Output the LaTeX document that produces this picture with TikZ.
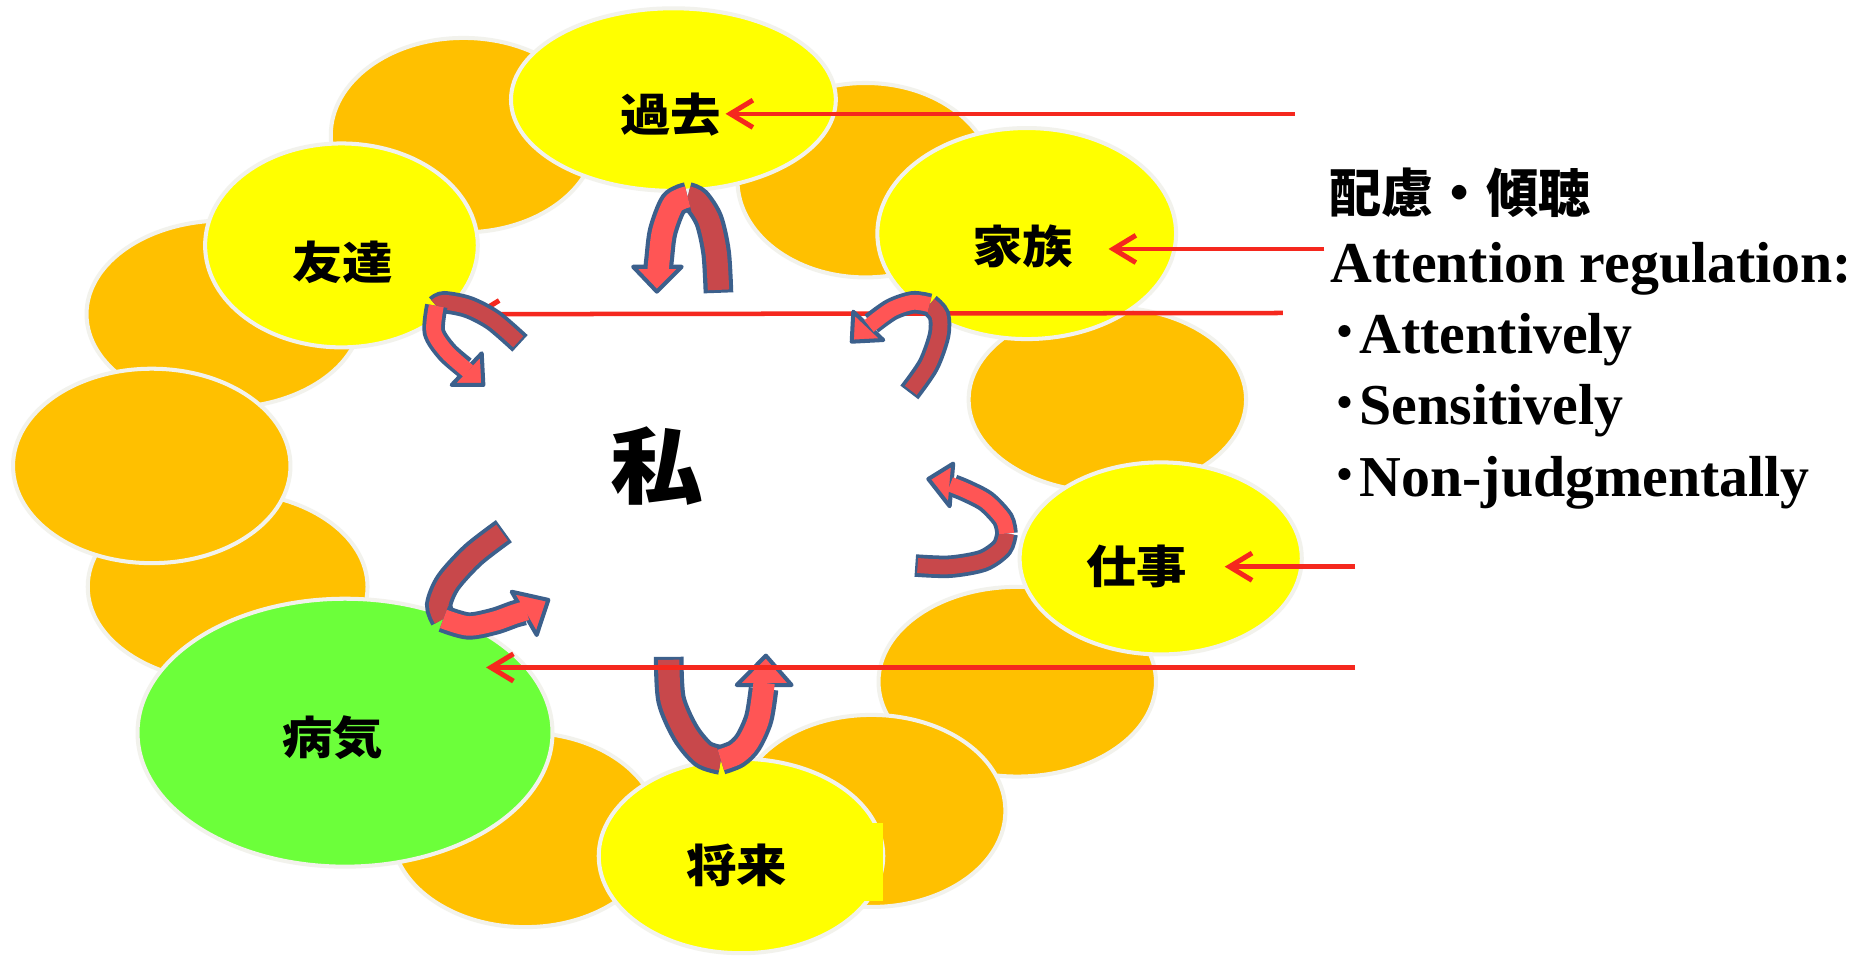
\documentclass[tikz,border=0pt]{standalone}
\usepackage{fontspec}
\setmainfont{Liberation Serif}
\newfontfamily\cjk{Noto Sans CJK JP}
\newfontfamily\cjkw{Noto Sans CJK JP}[FakeStretch=1.12]
\usetikzlibrary{shapes.geometric,arrows.meta}
\definecolor{orng}{RGB}{255,192,0}
\definecolor{yel}{RGB}{255,255,0}
\definecolor{grn}{RGB}{108,255,58}
\definecolor{rim}{RGB}{242,242,236}
\definecolor{redln}{RGB}{245,40,30}
\definecolor{arlight}{RGB}{255,85,85}
\definecolor{ardark}{RGB}{200,72,75}
\definecolor{arblue}{RGB}{60,96,140}
\begin{document}
\begin{tikzpicture}[x=0.5pt,y=-0.5pt,
  blob/.style={ellipse,draw=rim,line width=1.7pt,inner sep=0pt,outer sep=0pt},
  orangeblob/.style={blob,fill=orng},
  yelblob/.style={blob,fill=yel},
  grnblob/.style={blob,fill=grn},
  lbl/.style={inner sep=0pt,font=\cjkw\bfseries\fontsize{19pt}{19pt}\selectfont},
  rtxt/.style={anchor=base west,inner sep=0pt,font=\bfseries\fontsize{24.4pt}{26pt}\selectfont},
  redarrow/.style={draw=redln,line width=1.9pt,-{Straight Barb[length=9.5pt,width=11.5pt,line width=2.1pt]}},
  ribo/.style={draw=arblue,line width=#1,line cap=butt},
  ribd/.style={draw=ardark,line width=#1,line cap=butt},
  ribl/.style={draw=arlight,line width=#1,line cap=butt},
  headst/.style={fill=arlight,draw=arblue,line width=1.7pt,line join=round}]
\fill[white] (0,0) rectangle (1568,806);
\useasboundingbox (0,0) rectangle (1568,806);
% orange background ellipses
\node[orangeblob,minimum width=112pt,minimum height=82pt] (o1) at (391,114) {};
\node[orangeblob,minimum width=108pt,minimum height=82pt] (o2) at (730,152) {};
\node[orangeblob,minimum width=116pt,minimum height=79pt] (o3) at (189,265) {};
\node[orangeblob,minimum width=118pt,minimum height=80pt] (o4) at (192,495) {};
\node[orangeblob,minimum width=117pt,minimum height=82pt] (o5) at (128,393) {};
\node[orangeblob,minimum width=113pt,minimum height=82pt] (o6) at (443,700) {};
\node[orangeblob,minimum width=117pt,minimum height=78pt] (o7) at (934,337) {};
\node[orangeblob,minimum width=117pt,minimum height=80pt] (o8) at (858,575) {};
\node[orangeblob,minimum width=113pt,minimum height=81pt] (o9) at (735,684) {};
% coloured topic ellipses
\node[yelblob,minimum width=137pt,minimum height=77pt] (kako) at (568,84) {};
\node[yelblob,minimum width=115pt,minimum height=86pt] (tomo) at (288,207) {};
\node[yelblob,minimum width=126pt,minimum height=89pt] (kazoku) at (866,197) {};
\node[yelblob,minimum width=119pt,minimum height=81pt] (shigoto) at (979,471) {};
\node[grnblob,minimum width=175pt,minimum height=113pt] (byoki) at (291,618) {};
\node[yelblob,minimum width=120pt,minimum height=82pt] (shorai) at (625,722) {};
\fill[yel] (700,694) rectangle (744.5,760);
% labels
\node[lbl] (tkako) at (565.5,96.5) {過去};
\node[lbl] (ttomo) at (289,221.5) {友達};
\node[lbl] (tkazoku) at (862.5,208) {家族};
\node[lbl] (tshigoto) at (959,477.5) {仕事};
\node[lbl] (tbyoki) at (280.5,622) {病気};
\node[lbl] (tshorai) at (621.5,729.5) {将来};
\node[inner sep=0pt,font=\cjkw\bfseries\fontsize{35pt}{35pt}\selectfont] (me) at (554.5,393.5) {私};
% right-hand text
\node[anchor=base west,inner sep=0pt,font=\cjk\bfseries\fontsize{22pt}{22pt}\selectfont] (head) at (1121,179) {配慮・傾聴};
\node[rtxt] (l1) at (1122,238) {Attention regulation:};
\node[rtxt] (l2) at (1122,298) {{\cjk ･}Attentively};
\node[rtxt] (l3) at (1122,358) {{\cjk ･}Sensitively};
\node[rtxt] (l4) at (1122,419) {{\cjk ･}Non-judgmentally};
% red pointer lines
\coordinate (r1s) at (1092,96);  \coordinate (r1e) at (612,96);
\coordinate (r2s) at (1117,210); \coordinate (r2e) at (935,210);
\coordinate (r3s) at (1082,264); \coordinate (r3e) at (398,265);
\coordinate (r4s) at (1143,478); \coordinate (r4e) at (1033,478);
\coordinate (r5s) at (1143,563); \coordinate (r5e) at (410,563);
\draw[redarrow] (r1s) -- (r1e);
\draw[redarrow] (r2s) -- (r2e);
\draw[redarrow] (r3s) -- (r3e);
\draw[redarrow] (r4s) -- (r4e);
% curved arrow a (below kako)
\draw[ribo=12.5pt] plot[smooth] coordinates {(606,247) (604,213) (598,186) (588,170) (580,166)};
\draw[ribd=9pt] plot[smooth] coordinates {(606,244.5) (604,213) (598,186) (588,170) (580,166)};
\draw[ribo=12.5pt] plot[smooth] coordinates {(580,166) (568,172) (559,195) (556,218) (555,228)};
\filldraw[headst] (534,225) -- (554,246) -- (575,225) -- cycle;
\draw[ribl=9pt] plot[smooth] coordinates {(580,166) (568,172) (559,195) (556,218) (555,229)};
% curved arrow b (kazoku)
\draw[ribo=9.5pt] plot[smooth] coordinates {(767,331) (783,308) (792,283) (792,266) (784,257)};
\draw[ribd=6.3pt] plot[smooth] coordinates {(768.2,329.3) (783,308) (792,283) (792,266) (784,257)};
\draw[ribo=9.5pt] plot[smooth] coordinates {(784,257) (770,255) (752,261) (735,273)};
\filldraw[headst] (719.7,262.9) -- (718.4,288.2) -- (745,286.8) -- cycle;
\draw[ribl=6.3pt] plot[smooth] coordinates {(784,257) (770,255) (752,261) (733,275)};
% curved arrow c (shigoto)
\draw[ribo=9.5pt] plot[smooth] coordinates {(772,477) (801,478) (829,473) (845,462) (849,450)};
\draw[ribd=6.3pt] plot[smooth] coordinates {(774,477) (801,478) (829,473) (845,462) (849,450)};
\draw[ribo=9.5pt] plot[smooth] coordinates {(849,450) (846,438) (832,423) (815,414) (804,409.5)};
\filldraw[headst] (804,391) -- (783,404) -- (801,427) -- cycle;
\draw[ribl=6.3pt] plot[smooth] coordinates {(849,450) (846,438) (832,423) (815,414) (801.5,408.5)};
% curved arrow d (byoki)
\draw[ribo=11.5pt] plot[smooth] coordinates {(425,448) (399,468) (378,491) (370,510) (374,522)};
\draw[ribd=8.2pt] plot[smooth] coordinates {(423.4,449.2) (399,468) (378,491) (370,510) (374,522)};
\draw[ribo=11.5pt] plot[smooth] coordinates {(374,522) (395,528) (417,524) (434,518) (442,516)};
\filldraw[headst] (431.6,499.1) -- (462.5,506) -- (452.7,535.6) -- cycle;
\draw[ribl=8.2pt] plot[smooth] coordinates {(374,522) (395,528) (417,524) (434,518) (444,515)};
% curved arrow e (shorai)
\draw[ribo=12.5pt] plot[smooth] coordinates {(564,554) (566,590) (578,618) (593,636) (608,641)};
\draw[ribd=9pt] plot[smooth] coordinates {(564,556.5) (566,590) (578,618) (593,636) (608,641)};
\draw[ribo=12.5pt] plot[smooth] coordinates {(608,641) (621,636) (631,626) (640,606) (644,581)};
\filldraw[headst] (621.4,577.8) -- (646,553) -- (667.7,577.8) -- cycle;
\draw[ribl=9pt] plot[smooth] coordinates {(608,641) (621,636) (631,626) (640,606) (644.5,576)};
% curved arrow f (tomo)
\draw[ribo=9.5pt] plot[smooth] coordinates {(438.6,289.6) (416,270) (395,259) (375,255) (368,258)};
\draw[ribd=6.3pt] plot[smooth] coordinates {(437.1,288.3) (416,270) (395,259) (375,255) (368,258)};
\draw[ribo=9.5pt] plot[smooth] coordinates {(368,258) (366,280) (377,297) (392,310)};
\filldraw[headst] (381,324.7) -- (407.7,324.7) -- (406.3,298) -- cycle;
\draw[ribl=6.3pt] plot[smooth] coordinates {(368,258) (366,280) (377,297) (395,313)};
% red line over the bottom arrow
\draw[redarrow] (r5s) -- (r5e);
\end{tikzpicture}
\end{document}
